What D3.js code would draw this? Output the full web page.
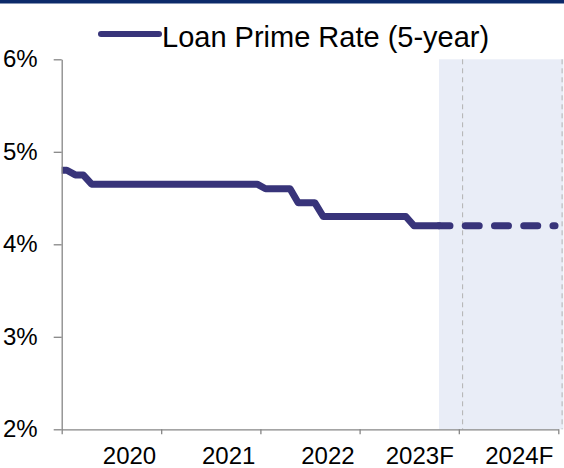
<!DOCTYPE html>
<html>
<head>
<meta charset="utf-8">
<script src="https://cdn.jsdelivr.net/npm/d3@7/dist/d3.min.js"></script>
<style>
  html, body { margin: 0; padding: 0; background: #fff; }
  svg { display: block; font-family: "Liberation Sans", Arial, sans-serif; }
</style>
</head>
<body>
<svg id="chart" width="564" height="468"></svg>
<script>
// 5-year Loan Prime Rate, monthly fixings (published on the 20th)
const actualMonths = [
  "2019-12","2020-01","2020-02","2020-03","2020-04","2020-05","2020-06","2020-07",
  "2020-08","2020-09","2020-10","2020-11","2020-12","2021-01","2021-02","2021-03",
  "2021-04","2021-05","2021-06","2021-07","2021-08","2021-09","2021-10","2021-11",
  "2021-12","2022-01","2022-02","2022-03","2022-04","2022-05","2022-06","2022-07",
  "2022-08","2022-09","2022-10","2022-11","2022-12","2023-01","2023-02","2023-03",
  "2023-04","2023-05","2023-06","2023-07","2023-08","2023-09","2023-10"
];
const actualRates = [
  4.80, 4.80, 4.75, 4.75, 4.65, 4.65, 4.65, 4.65,
  4.65, 4.65, 4.65, 4.65, 4.65, 4.65, 4.65, 4.65,
  4.65, 4.65, 4.65, 4.65, 4.65, 4.65, 4.65, 4.65,
  4.65, 4.60, 4.60, 4.60, 4.60, 4.45, 4.45, 4.45,
  4.30, 4.30, 4.30, 4.30, 4.30, 4.30, 4.30, 4.30,
  4.30, 4.30, 4.30, 4.20, 4.20, 4.20, 4.20
];

// Forecast path
const forecastMonths = [
  "2023-10","2023-11","2023-12","2024-01","2024-02","2024-03","2024-04","2024-05",
  "2024-06","2024-07","2024-08","2024-09","2024-10","2024-11","2024-12"
];
const forecastRates = [
  4.20, 4.20, 4.20, 4.20, 4.20, 4.20, 4.20, 4.20,
  4.20, 4.20, 4.20, 4.20, 4.20, 4.20, 4.20
];

const yearLabels = ["2020", "2021", "2022", "2023F", "2024F"];
const yearStarts = ["2020-01-01","2021-01-01","2022-01-01","2023-01-01","2024-01-01","2025-01-01"];
const yTicks = [2, 3, 4, 5, 6];

// Forecast shading and year separators
const forecastBand = ["2023-10-20", "2025-01-20"];
const separators = ["2024-01-15", "2025-01-15"];

const seriesName = "Loan Prime Rate (5-year)";

const parseMonth = d3.timeParse("%Y-%m");
const parseDay = d3.timeParse("%Y-%m-%d");
const fixing = m => d3.timeDay.offset(parseMonth(m), 19);

const actual = actualMonths.map((m, i) => ({ date: fixing(m), value: actualRates[i] }));
const forecast = forecastMonths.map((m, i) => ({ date: fixing(m), value: forecastRates[i] }));

const svg = d3.select("#chart");
const lineColor = "#38347a";
const axisColor = "#868686";

// header rule
svg.append("rect").attr("x", 0).attr("y", 0).attr("width", 564).attr("height", 3.5).attr("fill", "#0c2a6a");

const x = d3.scaleTime()
  .domain([parseDay(yearStarts[0]), parseDay(yearStarts[yearStarts.length - 1])])
  .range([61.7, 558.3]);
const y = d3.scaleLinear().domain([2, 6]).range([429.3, 59.3]);

// forecast shading
svg.append("rect")
  .attr("x", x(parseDay(forecastBand[0])))
  .attr("y", y(6))
  .attr("width", x(parseDay(forecastBand[1])) - x(parseDay(forecastBand[0])))
  .attr("height", y(2) - y(6))
  .attr("fill", "#e9edf7");

svg.selectAll("line.sep")
  .data(separators)
  .join("line")
  .attr("class", "sep")
  .attr("x1", d => x(parseDay(d))).attr("x2", d => x(parseDay(d)))
  .attr("y1", y(6)).attr("y2", y(2))
  .attr("stroke", "#b2b2b2")
  .attr("stroke-width", 1)
  .attr("stroke-dasharray", "5,4");

// clip the series to the plotting area
svg.append("clipPath").attr("id", "plot")
  .append("rect")
  .attr("x", x.range()[0]).attr("y", 0)
  .attr("width", 564 - x.range()[0]).attr("height", 468);

const line = d3.line().x(d => x(d.date)).y(d => y(d.value));

svg.append("path")
  .datum(forecast)
  .attr("clip-path", "url(#plot)")
  .attr("d", line)
  .attr("fill", "none")
  .attr("stroke", lineColor)
  .attr("stroke-width", 7)
  .attr("stroke-linecap", "round")
  .attr("stroke-dasharray", "14,15.25")
  .attr("stroke-dashoffset", 3);

svg.append("path")
  .datum(actual)
  .attr("clip-path", "url(#plot)")
  .attr("d", line)
  .attr("fill", "none")
  .attr("stroke", lineColor)
  .attr("stroke-width", 7)
  .attr("stroke-linejoin", "round")
  .attr("stroke-linecap", "round");

// y axis
const yAxis = svg.append("g")
  .attr("transform", `translate(${x.range()[0]},0)`)
  .call(d3.axisLeft(y).tickValues(yTicks).tickFormat(d => d + "%").tickSize(8).tickSizeOuter(0).tickPadding(16));

// x axis
const xAxis = svg.append("g")
  .attr("transform", `translate(0,${y(2)})`)
  .call(d3.axisBottom(x).tickValues(yearStarts.map(parseDay)).tickFormat("").tickSize(5).tickSizeOuter(0));

[yAxis, xAxis].forEach(g => {
  g.select(".domain").attr("stroke", axisColor).attr("stroke-width", 1.3);
  g.selectAll(".tick line").attr("stroke", axisColor).attr("stroke-width", 1.3);
  g.selectAll("text").attr("fill", "#000").style("font-size", "24px").style("font-family", "Liberation Sans, Arial, sans-serif");
});

// year labels sit just left of the closing tick of each year
svg.selectAll("text.year")
  .data(yearLabels)
  .join("text")
  .attr("class", "year")
  .attr("x", (d, i) => x(parseDay(yearStarts[i + 1])) - 5)
  .attr("y", 464)
  .attr("text-anchor", "end")
  .attr("font-size", 24)
  .attr("fill", "#000")
  .text(d => d);

// legend
const legend = svg.append("g");
legend.append("line")
  .attr("x1", 101).attr("x2", 159).attr("y1", 34).attr("y2", 34)
  .attr("stroke", lineColor).attr("stroke-width", 6).attr("stroke-linecap", "round");
legend.append("text")
  .attr("x", 162).attr("y", 47)
  .attr("font-size", 29)
  .attr("fill", "#000")
  .text(seriesName);
</script>
</body>
</html>
